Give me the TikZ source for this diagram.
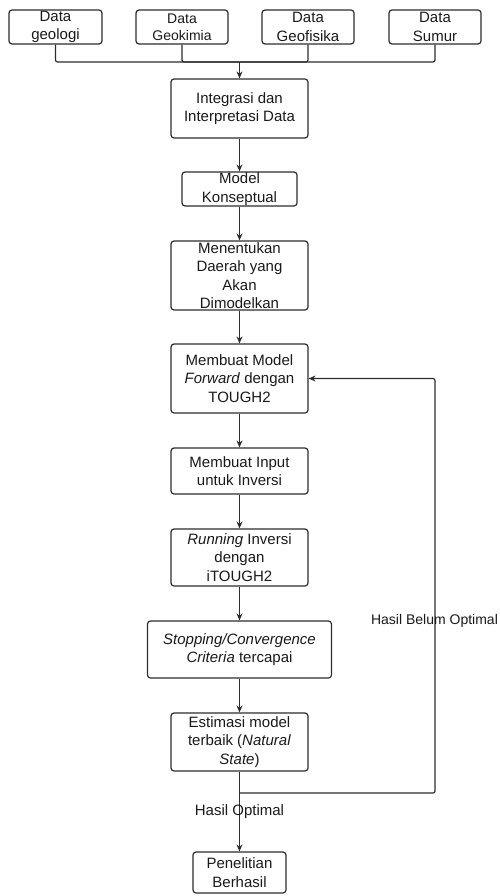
\documentclass[tikz,border=0pt]{standalone}
\usepackage{fontspec}
\setmainfont{Liberation Sans}
\usetikzlibrary{arrows.meta}
\definecolor{ln}{RGB}{45,45,45}
\definecolor{tx}{RGB}{25,25,25}
\begin{document}
\begin{tikzpicture}[x=1pt,y=-1pt,
  box/.style={draw=ln, line width=1.2pt, rounded corners=3pt, inner sep=0pt, align=center, text=tx,
    font=\fontsize{15}{18.3}\selectfont},
  conn/.style={draw=ln, line width=1.2pt, rounded corners=2pt},
  arr/.style={conn, -{Stealth[length=7pt,width=6pt]}},
  lbl/.style={text=tx, inner sep=0pt}
]
\useasboundingbox (0,0) rectangle (499,896);
% top data boxes
\node[box, minimum width=93pt, minimum height=34pt] (d1) at (55.5,27) {Data\\geologi};
\node[box, minimum width=92pt, minimum height=34pt, font=\fontsize{14}{16.7}\selectfont] (d2) at (182,27) {Data\\Geokimia};
\node[box, minimum width=92pt, minimum height=34pt] (d3) at (308,27) {Data\\Geofisika};
\node[box, minimum width=92pt, minimum height=34pt] (d4) at (435,27) {Data\\Sumur};
% main chain
\node[box, minimum width=137pt, minimum height=59pt] (int) at (239.5,108.5) {Integrasi dan\\Interpretasi Data};
\node[box, minimum width=115pt, minimum height=34pt] (mk) at (239.5,189) {Model\\Konseptual};
\node[box, minimum width=137pt, minimum height=69pt] (men) at (239.5,275.5) {Menentukan\\Daerah yang\\Akan\\Dimodelkan};
\node[box, minimum width=137pt, minimum height=69pt] (mf) at (239.5,378.5) {Membuat Model\\\textit{Forward} dengan\\TOUGH2};
\node[box, minimum width=137pt, minimum height=46pt] (mi) at (239.5,471) {Membuat Input\\untuk Inversi};
\node[box, minimum width=137pt, minimum height=57pt] (run) at (239.5,557.5) {\textit{Running} Inversi\\dengan\\iTOUGH2};
\node[box, minimum width=184pt, minimum height=57pt] (stop) at (239.5,649.5) {\textit{Stopping/Convergence}\\\textit{Criteria} tercapai};
\node[box, minimum width=137pt, minimum height=58pt] (est) at (239.5,742) {Estimasi model\\terbaik (\textit{Natural}\\\textit{State})};
\node[box, minimum width=93pt, minimum height=41pt] (pen) at (239.5,872.5) {Penelitian\\Berhasil};
% merge of data boxes
\coordinate (j) at (239.5,62);
\draw[conn] (d1.south) |- (j);
\draw[conn] (d2.south) |- (j);
\draw[conn] (d3.south) |- (j);
\draw[conn] (d4.south) |- (j);
\draw[arr] (j) -- (int.north);
% chain arrows
\draw[arr] (int.south) -- (mk.north);
\draw[arr] (mk.south) -- (men.north);
\draw[arr] (men.south) -- (mf.north);
\draw[arr] (mf.south) -- (mi.north);
\draw[arr] (mi.south) -- (run.north);
\draw[arr] (run.south) -- (stop.north);
\draw[arr] (stop.south) -- (est.north);
% outcome
\coordinate (k) at (239.5,793);
\coordinate (r) at (435,793);
\draw[arr] (est.south) -- (pen.north);
\draw[arr] (k) -- (r) -- (r |- mf.east) -- (mf.east);
\node[lbl, font=\fontsize{15}{18}\selectfont] (lo) at (239.5,812) {Hasil Optimal};
\node[lbl, font=\fontsize{14}{17}\selectfont] (lb) at (434.5,621) {Hasil Belum Optimal};
\end{tikzpicture}
\end{document}
